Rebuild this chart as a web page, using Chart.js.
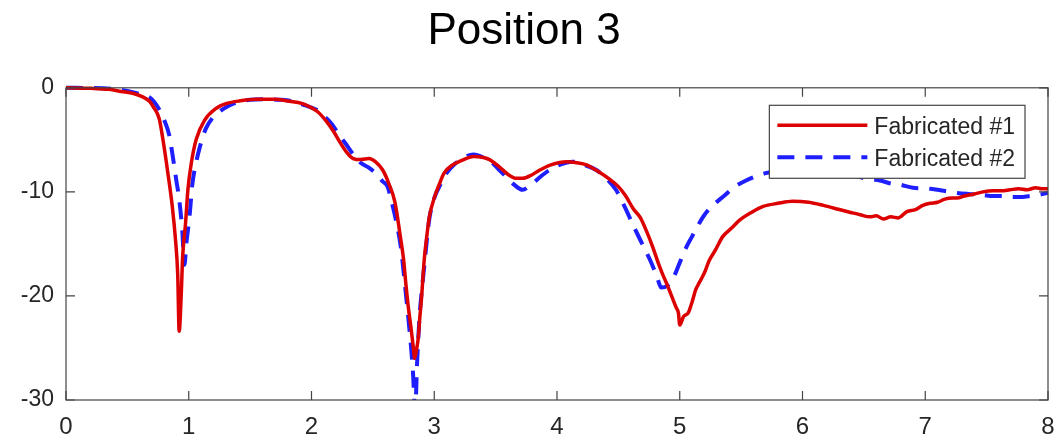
<!DOCTYPE html>
<html>
<head>
<meta charset="utf-8">
<script src="https://cdn.jsdelivr.net/npm/chart.js@4/dist/chart.umd.min.js"></script>
<style>
  html, body { margin: 0; padding: 0; background: #fff; }
  #wrap { width: 1056px; height: 442px; }
</style>
</head>
<body>
<div id="wrap"><canvas id="chart" width="1056" height="442"></canvas></div>
<script>
// DATA
const chartTitle = "Position 3";
const seriesNames = ["Fabricated #1", "Fabricated #2"];
const xTicks = [0, 1, 2, 3, 4, 5, 6, 7, 8];
const yTicks = [-30, -20, -10, 0];

const x1 = [0, 0.2, 0.35, 0.45, 0.55, 0.62, 0.68, 0.71, 0.76, 0.79,
  0.83, 0.866, 0.892, 0.91, 0.922, 0.94, 0.95, 0.974, 0.993, 1.02,
  1.06, 1.13, 1.22, 1.31, 1.42, 1.55, 1.7, 1.82, 1.92, 1.98,
  2.05, 2.12, 2.18, 2.23, 2.28, 2.34, 2.4, 2.47, 2.52, 2.58,
  2.63, 2.68, 2.72, 2.75, 2.77, 2.79, 2.81, 2.83, 2.84, 2.855,
  2.87, 2.88, 2.895, 2.92, 2.94, 2.96, 3.0, 3.04, 3.08, 3.15,
  3.22, 3.32, 3.4, 3.45, 3.53, 3.61, 3.67, 3.72, 3.79, 3.86,
  3.95, 4.08, 4.16, 4.24, 4.33, 4.43, 4.5, 4.56, 4.62, 4.68,
  4.73, 4.78, 4.83, 4.86, 4.9, 4.93, 4.97, 4.99, 5.0, 5.03,
  5.07, 5.1, 5.13, 5.16, 5.2, 5.24, 5.29, 5.35, 5.42, 5.49,
  5.58, 5.68, 5.8, 5.92, 6.05, 6.17, 6.3, 6.4, 6.47, 6.55,
  6.6, 6.66, 6.72, 6.78, 6.85, 6.92, 6.98, 7.04, 7.1, 7.16,
  7.22, 7.26, 7.32, 7.4, 7.47, 7.55, 7.62, 7.69, 7.76, 7.83,
  7.9, 7.95, 8.0];
const loss1 = [0, -0.05, -0.15, -0.35, -0.55, -0.85, -1.3, -1.8, -3.0, -5.0,
  -8.2, -11.4, -14.6, -17.9, -23.4, -19.5, -16.3, -13.0, -9.8, -7.3,
  -5.0, -3.1, -2.0, -1.5, -1.25, -1.1, -1.1, -1.3, -1.5, -1.8,
  -2.3, -3.2, -4.2, -5.2, -6.1, -6.8, -6.9, -6.8, -7.1, -7.9,
  -9.2, -11.0, -14.0, -16.5, -19.0, -21.2, -23.0, -25.0, -26.0, -25.2,
  -24.0, -22.4, -20.4, -16.3, -14.2, -12.4, -10.6, -9.3, -8.2, -7.4,
  -7.0, -6.6, -6.7, -6.9, -7.6, -8.4, -8.7, -8.7, -8.4, -7.9,
  -7.4, -7.1, -7.2, -7.4, -8.0, -8.8, -9.5, -10.4, -11.6, -12.5,
  -13.8, -15.3, -17.0, -17.9, -19.0, -19.9, -21.1, -21.7, -22.8, -22.0,
  -21.6, -20.6, -19.4, -18.7, -17.8, -16.6, -15.6, -14.3, -13.5, -12.7,
  -12.0, -11.4, -11.1, -10.9, -11.0, -11.3, -11.7, -12.0, -12.2, -12.4,
  -12.3, -12.6, -12.4, -12.5, -11.9, -11.7, -11.3, -11.1, -11.0, -10.7,
  -10.6, -10.6, -10.4, -10.2, -10.0, -9.9, -9.9, -9.8, -9.7, -9.8,
  -9.6, -9.7, -9.7];

const x2 = [0, 0.3, 0.5, 0.6, 0.69, 0.75, 0.8, 0.84, 0.87, 0.9,
  0.92, 0.947, 0.965, 0.98, 1.006, 1.03, 1.06, 1.09, 1.14, 1.2,
  1.25, 1.33, 1.41, 1.5, 1.63, 1.75, 1.85, 1.95, 2.04, 2.1,
  2.16, 2.23, 2.28, 2.34, 2.4, 2.47, 2.53, 2.58, 2.62, 2.66,
  2.7, 2.73, 2.76, 2.8, 2.825, 2.845, 2.86, 2.88, 2.9, 2.92,
  2.94, 2.96, 3.0, 3.05, 3.1, 3.16, 3.24, 3.32, 3.4, 3.48,
  3.53, 3.59, 3.65, 3.72, 3.78, 3.86, 3.94, 4.02, 4.13, 4.22,
  4.32, 4.4, 4.48, 4.55, 4.62, 4.69, 4.76, 4.81, 4.85, 4.9,
  4.95, 5.0, 5.05, 5.1, 5.15, 5.19, 5.25, 5.35, 5.45, 5.54,
  5.62, 5.7, 5.8, 5.95, 6.1, 6.25, 6.4, 6.55, 6.63, 6.72,
  6.79, 6.9, 7.04, 7.15, 7.26, 7.35, 7.47, 7.55, 7.62, 7.69,
  7.77, 7.85, 7.92, 8.0];
const loss2 = [0, -0.05, -0.3, -0.6, -1.0, -1.9, -3.1, -4.5, -6.6, -9.0,
  -10.5, -13.7, -17.0, -15.0, -12.4, -9.2, -7.2, -5.7, -3.9, -2.8,
  -2.3, -1.7, -1.35, -1.15, -1.1, -1.15, -1.3, -1.7, -2.1, -2.7,
  -3.4, -4.6, -5.4, -6.4, -7.2, -7.7, -8.3, -9.0, -9.5, -11.3,
  -13.4, -15.5, -18.8, -23.5, -27.0, -31.0, -26.5, -22.0, -19.3, -17.0,
  -14.6, -12.6, -10.6, -9.3, -8.2, -7.4, -6.7, -6.4, -6.7, -7.3,
  -7.9, -8.6, -9.3, -9.8, -9.4, -8.6, -7.9, -7.4, -7.1, -7.4,
  -7.9, -8.7, -9.8, -11.4, -13.2, -14.9, -16.6, -18.0, -19.2, -19.0,
  -18.2, -16.8, -15.4, -14.3, -13.2, -12.4, -11.5, -10.5, -9.5, -8.9,
  -8.5, -8.2, -8.0, -7.8, -7.9, -8.1, -8.4, -8.8, -8.9, -9.2,
  -9.3, -9.6, -9.7, -9.9, -10.1, -10.2, -10.3, -10.4, -10.4, -10.5,
  -10.5, -10.4, -10.3, -10.1];

// STYLE
const FONT = "'Liberation Sans', Arial, Helvetica, sans-serif";
const TEXT = "#262626";
const AXIS = "#444444";
const RED = "rgb(220,0,0)";
const BLUE = "rgb(30,30,255)";

const pts = (xs, ys) => xs.map((x, i) => ({ x: x, y: ys[i] }));

// box + inward ticks like matlab
const boxPlugin = {
  id: "box",
  afterDatasetsDraw(chart) {
    const { ctx, chartArea: a, scales } = chart;
    ctx.save();
    ctx.strokeStyle = AXIS;
    ctx.lineWidth = 1.2;
    ctx.strokeRect(a.left, a.top, a.right - a.left, a.bottom - a.top);
    ctx.beginPath();
    const len = 9;
    xTicks.forEach(v => {
      const px = scales.x.getPixelForValue(v);
      ctx.moveTo(px, a.bottom); ctx.lineTo(px, a.bottom - len);
      ctx.moveTo(px, a.top); ctx.lineTo(px, a.top + len);
    });
    yTicks.forEach(v => {
      const py = scales.y.getPixelForValue(v);
      ctx.moveTo(a.left, py); ctx.lineTo(a.left + len, py);
      ctx.moveTo(a.right, py); ctx.lineTo(a.right - len, py);
    });
    ctx.stroke();
    ctx.restore();
  },
  afterDraw(chart) {
    // legend box in the upper right corner
    const { ctx, chartArea: a } = chart;
    ctx.save();
    ctx.font = "23px " + FONT;
    const tw = Math.max(...chart.data.datasets.map(d => ctx.measureText(d.label).width));
    const w = 8 + 90 + 7 + tw + 10;
    const h = 73;
    const left = a.right - 23 - w;
    const top = a.top + 17.5;
    ctx.fillStyle = "#fff";
    ctx.fillRect(left, top, w, h);
    ctx.strokeStyle = AXIS;
    ctx.lineWidth = 1.2;
    ctx.strokeRect(left, top, w, h);
    chart.data.datasets.forEach((d, i) => {
      const y = top + 20 + i * 32;
      ctx.beginPath();
      ctx.strokeStyle = d.borderColor;
      ctx.lineWidth = d.borderWidth;
      ctx.setLineDash(d.borderDash || []);
      ctx.moveTo(left + 8, y);
      ctx.lineTo(left + 98, y);
      ctx.stroke();
      ctx.setLineDash([]);
      ctx.fillStyle = TEXT;
      ctx.textBaseline = "middle";
      ctx.fillText(d.label, left + 105, y + 2);
    });
    ctx.restore();
  }
};

const ctx = document.getElementById("chart");

new Chart(ctx, {
  type: "line",
  data: {
    datasets: [
      {
        label: seriesNames[0],
        data: pts(x1, loss1),
        borderColor: RED,
        borderWidth: 3.5,
        pointRadius: 0,
        cubicInterpolationMode: "monotone",
        clip: { left: 5, top: 5, right: 5, bottom: 0 },
      },
      {
        label: seriesNames[1],
        data: pts(x2, loss2),
        borderColor: BLUE,
        borderWidth: 4,
        borderDash: [17, 11],
        pointRadius: 0,
        cubicInterpolationMode: "monotone",
        clip: { left: 5, top: 5, right: 5, bottom: 0 },
      },
    ],
  },
  options: {
    responsive: false,
    animation: false,
    layout: { padding: { left: 0, right: 8, top: 0, bottom: 0 } },
    plugins: {
      legend: { display: false },
      tooltip: { enabled: false },
      title: {
        display: true,
        text: chartTitle,
        color: "#000",
        font: { family: FONT, size: 44, weight: "normal" },
        padding: { top: 5, bottom: 30 },
      },
    },
    scales: {
      x: {
        type: "linear",
        min: 0,
        max: 8,
        grid: { display: false, drawTicks: false },
        border: { display: false },
        afterBuildTicks: s => { s.ticks = xTicks.map(v => ({ value: v })); },
        afterFit: s => { s.height = 42; s.paddingLeft = 0; s.paddingRight = 0; },
        ticks: { color: TEXT, padding: 13, maxRotation: 0, font: { family: FONT, size: 24 } },
      },
      y: {
        min: -30,
        max: 0,
        grid: { display: false, drawTicks: false },
        border: { display: false },
        afterBuildTicks: s => { s.ticks = yTicks.map(v => ({ value: v })); },
        afterFit: s => { s.width = 66; s.paddingTop = 0; s.paddingBottom = 0; },
        ticks: { color: TEXT, padding: 12, font: { family: FONT, size: 23 } },
      },
    },
  },
  plugins: [boxPlugin],
});
</script>
</body>
</html>
